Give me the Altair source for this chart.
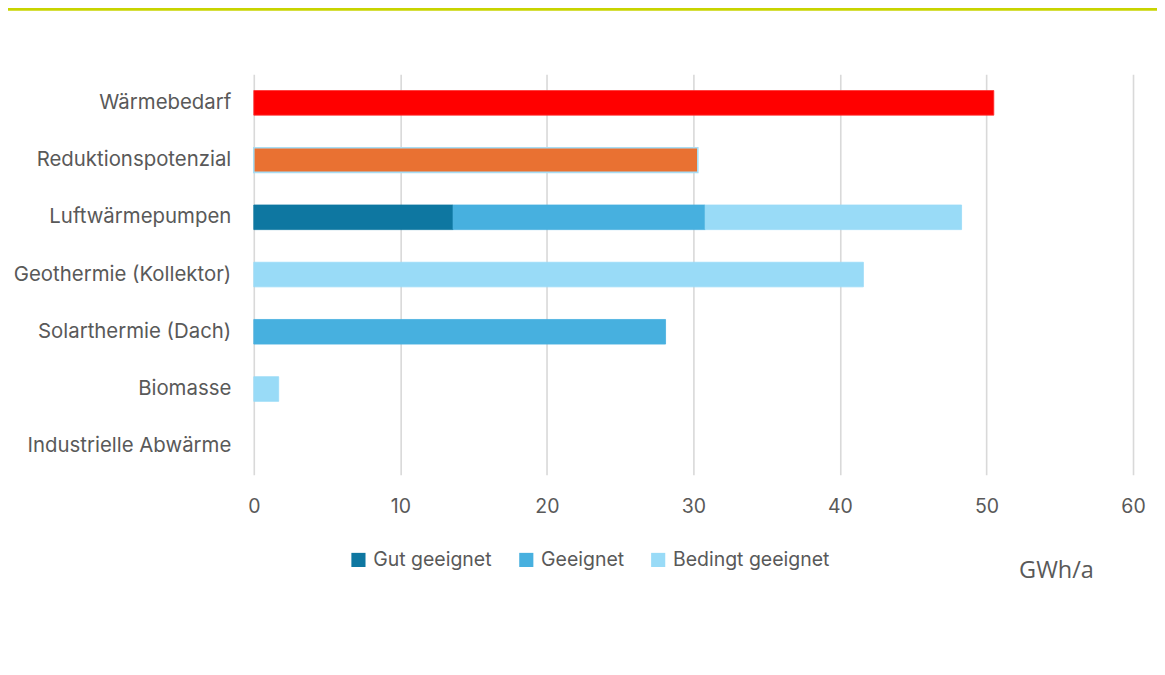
import altair as alt
import pandas as pd

categories = ["Wärmebedarf", "Reduktionspotenzial\u00a0", "Luftwärmepumpen",
              "Geothermie (Kollektor)", "Solarthermie (Dach)", "Biomasse",
              "Industrielle Abwärme"]
series = ["Gut geeignet", "Geeignet", "Bedingt geeignet"]
series_colors = ["#0E77A1", "#47B0DF", "#99DBF7"]

waermebedarf = [50.5]
reduktion = [30.3]
# potentials per category (Luftwärmepumpen .. Industrielle Abwärme)
gut = [13.6, 0, 0, 0, 0]
geeignet = [17.2, 0, 28.1, 0, 0]
bedingt = [17.5, 41.6, 0, 1.7, 0]

pot_cats = categories[2:]
rows = []
for i, c in enumerate(pot_cats):
    for j, (s, vals) in enumerate(zip(series, [gut, geeignet, bedingt])):
        rows.append({"cat": c, "series": s, "value": vals[i], "order": j})
pot_df = pd.DataFrame(rows)
top_df = pd.DataFrame({"cat": categories[:2], "value": waermebedarf + reduktion,
                       "kind": ["bedarf", "reduktion"]})

FONT = "Inter"
GREY = "#595959"
FS = 19.5

y_enc = alt.Y("cat:N", sort=categories,
              scale=alt.Scale(domain=categories, paddingInner=0.57, paddingOuter=0.285),
              axis=alt.Axis(title=None, domain=False, ticks=False, labelPadding=23,
                            labelFontSize=20.4, labelColor=GREY, labelFont=FONT, grid=False,
                            labelLimit=400))
x_axis = alt.Axis(title=None, domain=False, ticks=False, values=[0, 10, 20, 30, 40, 50, 60],
                  labelPadding=23, labelFontSize=FS, labelColor=GREY, labelFont=FONT,
                  labelFlush=False,
                  grid=True, gridColor="#D9D9D9", gridWidth=1.6)
x_scale = alt.Scale(domain=[0, 60], nice=False)
x_enc = alt.X("value:Q", scale=x_scale, axis=x_axis)

bedarf = alt.Chart(top_df).transform_filter(alt.datum.kind == "bedarf").mark_bar(
    color="#FF0000", stroke="#FF3030", strokeWidth=0.8).encode(x=x_enc, y=y_enc)
red = alt.Chart(top_df).transform_filter(alt.datum.kind == "reduktion").mark_bar(
    color="#E97132", stroke="#A8DDF4", strokeWidth=1.6).encode(x=x_enc, y=y_enc)

pot = alt.Chart(pot_df).transform_filter(alt.datum.value > 0).mark_bar(strokeWidth=0.8).encode(
    x=alt.X("value:Q", stack="zero", scale=x_scale, axis=x_axis),
    y=y_enc,
    color=alt.Color("series:N", scale=alt.Scale(domain=series, range=series_colors),
                    legend=alt.Legend(title=None, orient="none", legendX=95, legendY=476,
                                      direction="horizontal", symbolType="square", symbolSize=200,
                                      symbolStrokeWidth=0, labelFontSize=FS, labelColor=GREY,
                                      labelFont=FONT, columnPadding=24, labelOffset=5,
                                      symbolOpacity=1, labelLimit=400)),
    stroke=alt.Stroke("series:N", scale=alt.Scale(domain=series, range=series_colors), legend=None),
    order=alt.Order("order:Q"),
)

unit_df = pd.DataFrame({"t": ["GWh/a"]})
unit = alt.Chart(unit_df).mark_text(align="left", baseline="middle", font="Open Sans",
                                     fontSize=23.5, color=GREY).encode(
    text="t:N", x=alt.value(766), y=alt.value(497))

topline = alt.Chart(unit_df).mark_rule(color="#C8D400", strokeWidth=3).encode(
    x=alt.value(-260), x2=alt.value(1000), y=alt.value(-65))

chart = alt.layer(bedarf, red, pot, unit, topline).properties(
    width=880, height=401,
    autosize=alt.AutoSizeParams(type="none"),
    padding={"left": 246, "top": 66, "right": 24, "bottom": 180},
).configure_view(stroke=None)

chart.save("out.html", embed_options={"renderer": "svg", "actions": False})
